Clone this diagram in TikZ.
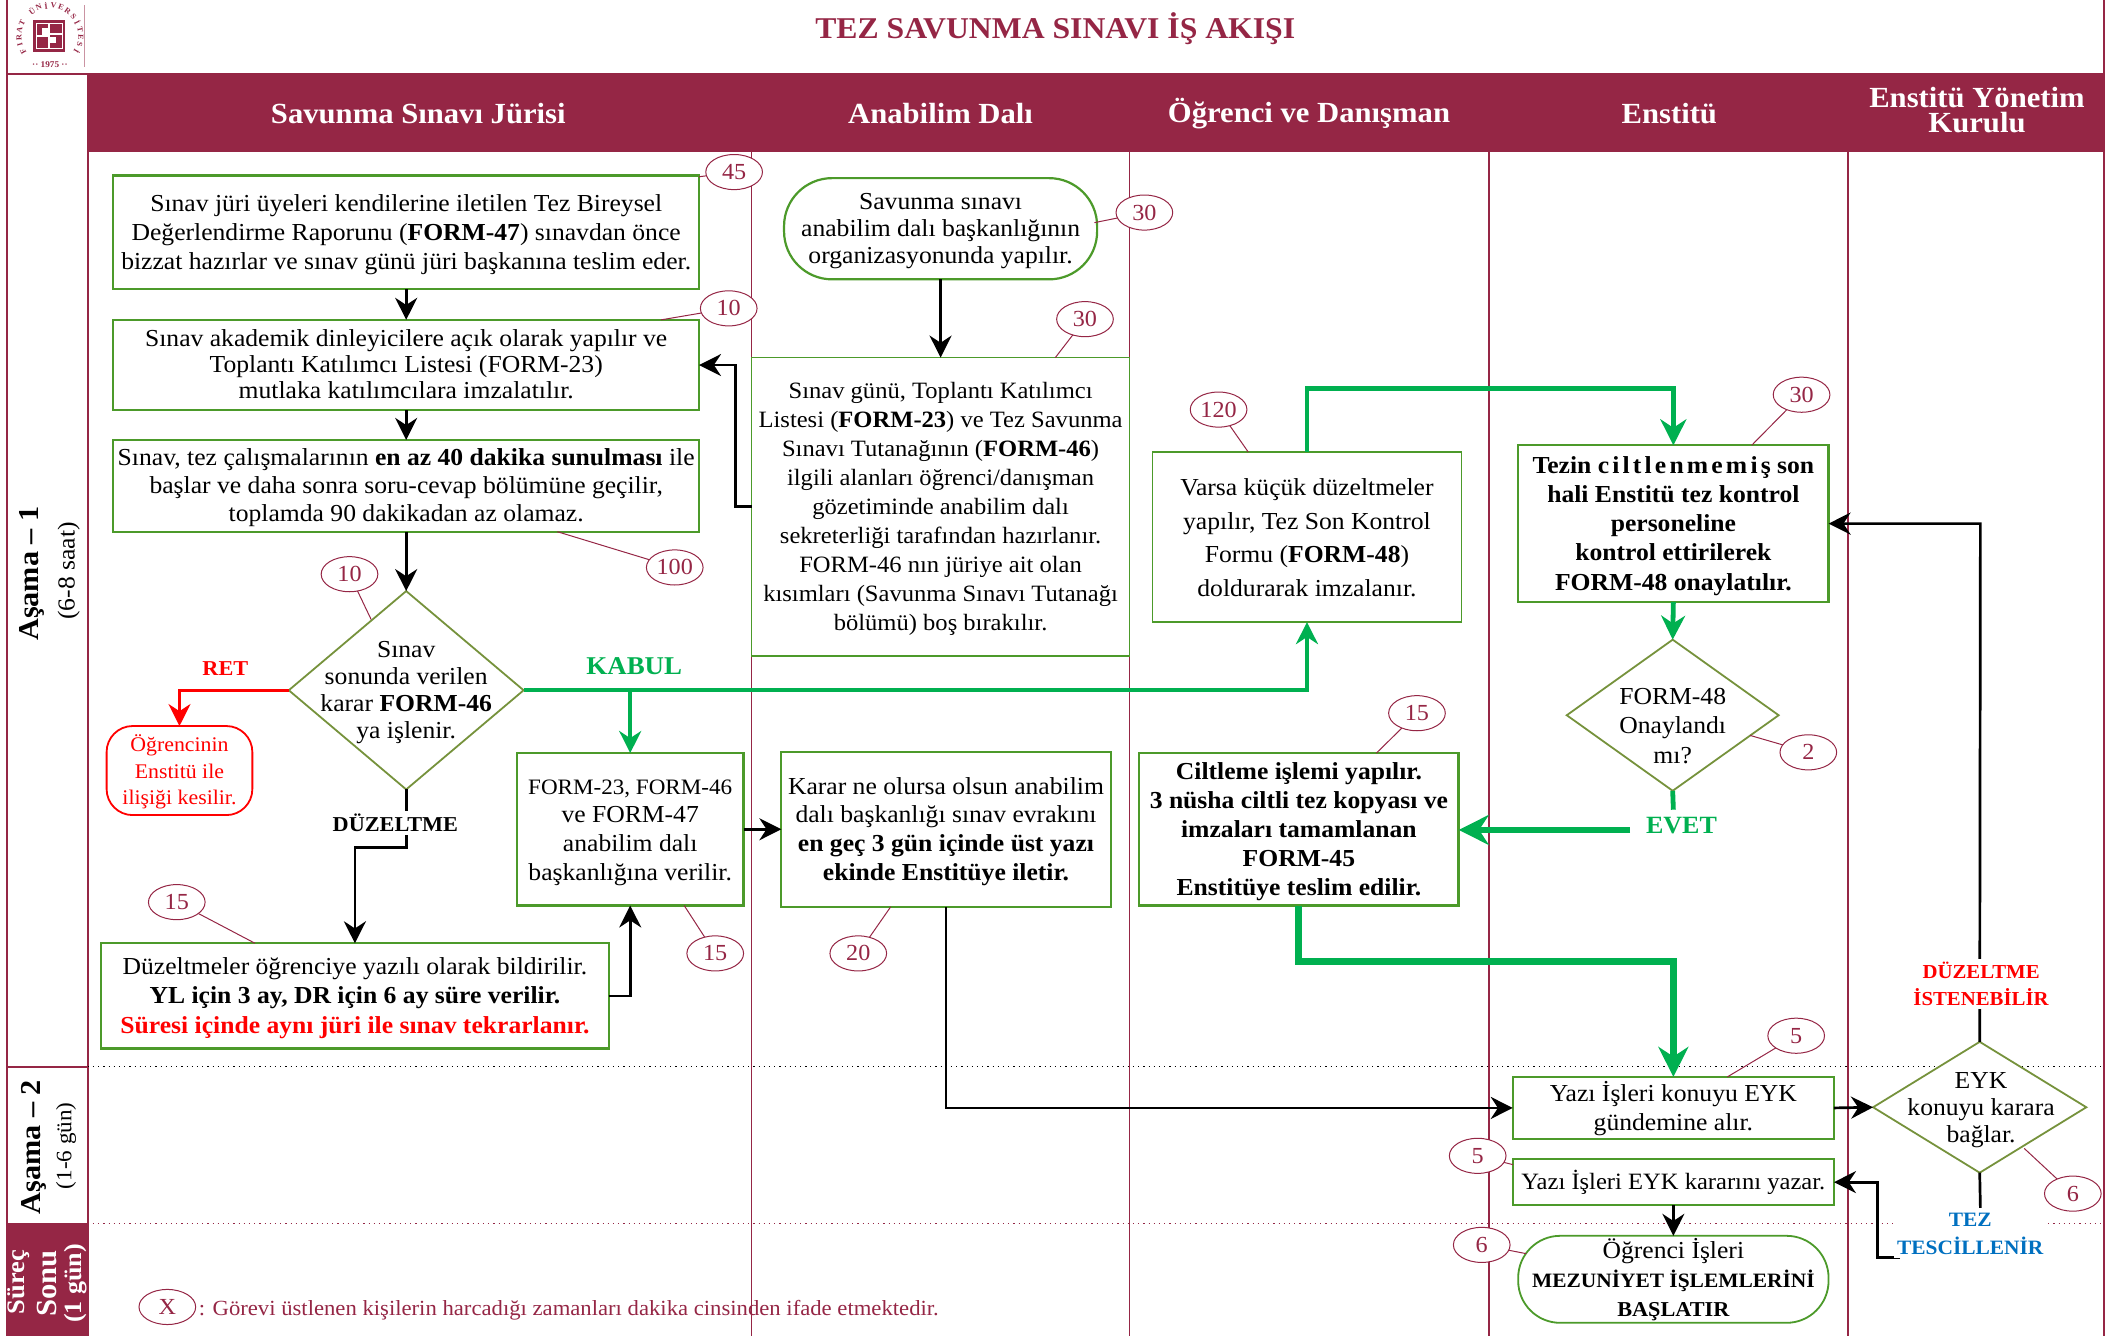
\documentclass[tikz,border=0pt]{standalone}
\usepackage{fontspec}
\setmainfont{Liberation Serif}[FakeStretch=1.05]
\usetikzlibrary{arrows.meta,shapes.geometric,calc}
\definecolor{burg}{HTML}{952645}
\definecolor{boxg}{HTML}{4C9A2A}
\definecolor{brightg}{HTML}{00B050}
\definecolor{olive}{HTML}{76923C}
\definecolor{tezblue}{HTML}{0070C0}
\tikzset{
  x=0.67475pt,y=-0.67475pt,
  >={Stealth[length=11pt,width=11pt]},
  txt/.style={inner sep=0pt,outer sep=0pt,align=center,font=\fontsize{12.2}{13.5}\selectfont},
  boxs/.style={inner sep=0pt,outer sep=0pt,font=\fontsize{12.2}{14.5}\selectfont,draw=boxg,line width=1.1pt,fill=white},
  dia/.style={diamond,draw=olive,line width=0.9pt,fill=white,inner sep=0pt,outer sep=0pt},
  tim/.style={ellipse,draw=burg,line width=0.5pt,fill=white,text=burg,inner sep=0pt,outer sep=0pt,minimum width=42*0.67475pt,minimum height=26*0.67475pt,font=\fontsize{11.5}{14}\selectfont},
  tie/.style={draw=burg,line width=0.5pt},
  lane/.style={draw=burg,line width=0.7pt},
  flow/.style={draw=black,line width=1.35pt,->},
  gflow/.style={draw=brightg,line width=1.8pt,->},
  gthick/.style={draw=brightg,line width=3.4pt,->,>={Stealth[length=15pt,width=15pt]}},
  head/.style={text=white,inner sep=0pt,align=center,font=\fontsize{14.6}{12.8}\selectfont\bfseries},
  lab/.style={inner sep=1.5pt,outer sep=0pt,align=center,fill=white,font=\fontsize{10.6}{14.4}\selectfont\bfseries},
}
\newcommand\bx[7][]{\node[boxs,minimum width={(#5-#3)*0.67475pt},minimum height={(#6-#4)*0.67475pt},#1] (#2) at ({(#3+#5)/2},{(#4+#6)/2}) {\raisebox{-1.1pt}[\height][\depth]{\begin{tabular}{@{}c@{}}#7\end{tabular}}};}
\newcommand\dm[8][]{\node[dia,minimum width={(#6-#4)*0.67475pt},minimum height={(#7-#5)*0.67475pt}] (#3) at ({(#4+#6)/2},{(#5+#7)/2}) {};
  \node[txt,#1] (#3t) at ($(#3.center)+(#2)$) {#8};}
\newcommand\tm[5]{\node[tim] (#1) at (#2,#3) {#4}; \draw[tie] (#1) -- (#5);}
\begin{document}
\begin{tikzpicture}
\useasboundingbox (0,0) rectangle (1568,990);
% header and frame
\fill[burg] (65,55) rectangle (1558,113);
\fill[burg] (5,906) rectangle (65,990);
\draw[lane,line width=1pt] (5,0) -- (5,990);
\draw[lane,line width=1pt] (5,54.5) -- (1559,54.5);
\draw[lane,line width=1pt] (65,55) -- (65,990);
\draw[lane,line width=1pt] (1559,0) -- (1559,990);
\draw[lane,line width=1pt] (5,790.5) -- (65,790.5);
\draw[lane] (557,113) -- (557,990);
\draw[lane] (837,113) -- (837,990);
\draw[lane] (1103.5,113) -- (1103.5,990);
\draw[lane] (1369.5,113) -- (1369.5,990);
\draw[black,line width=0.6pt,dotted] (65,790.5) -- (1558,790.5);
\draw[burg,line width=0.6pt,dotted] (65,906.5) -- (1558,906.5);
% logo
\draw[burg!50,line width=0.3pt] (62.5,4) -- (62.5,50);
\fill[burg] (24.7,15) rectangle (48,38.5);
\fill[white] (26.7,17) rectangle (46.5,36.5);
\fill[burg] (27.7,17.8) rectangle (35.8,26);
\fill[burg] (37,17.8) rectangle (45.7,24.7);
\fill[burg] (27.7,27.2) rectangle (35.8,35.8);
\fill[burg] (37,25.7) rectangle (45.7,35.8);
\fill[white] (31,21) rectangle (35.8,26);
\fill[white] (37,27.2) rectangle (41.5,32);
\foreach \l [count=\i from 0] in {F,I,R,A,T,{},Ü,N,İ,V,E,R,S,İ,T,E,S,İ}{
  \pgfmathsetmacro\ang{210-\i*14.1}
  \node[text=burg,inner sep=0pt,font=\fontsize{3.9}{5}\selectfont\bfseries,rotate=\ang-90] at ({37+23*cos(\ang)},{27-23*sin(\ang)}) {\l};
}
\node[text=burg,inner sep=0pt,font=\fontsize{4.4}{5}\selectfont\bfseries] (yr) at (37,48) {·· 1975 ··};
% title
\node[text=burg,inner sep=0pt,font=\fontsize{15.1}{18}\selectfont\bfseries] (title) at (782,21) {TEZ SAVUNMA SINAVI İŞ AKIŞI};
% headers
\node[head] (h1) at (310,84) {Savunma Sınavı Jürisi};
\node[head] (h2) at (697,84) {Anabilim Dalı};
\node[head] (h3) at (970,84) {Öğrenci ve Danışman};
\node[head] (h4) at (1237,84) {Enstitü};
\node[head] (h5) at (1465,81.5) {Enstitü Yönetim\\Kurulu};
% left column
\node[rotate=90,inner sep=0pt,font=\fontsize{14.4}{16}\selectfont\bfseries] (s1) at (24,425) {Aşama -- 1};
\node[rotate=90,inner sep=0pt,font=\fontsize{12.2}{12}\selectfont] (s1b) at (51,423) {(6-8 saat)};
\node[rotate=90,inner sep=0pt,font=\fontsize{14.4}{16}\selectfont\bfseries] (s2) at (25,850) {Aşama -- 2};
\node[rotate=90,inner sep=0pt,font=\fontsize{11}{12}\selectfont] (s2b) at (49,849) {(1-6 gün)};
\node[rotate=90,text=white,inner sep=0pt,font=\fontsize{12.6}{12}\selectfont\bfseries] (s3a) at (14,950) {Süreç};
\node[rotate=90,text=white,inner sep=0pt,font=\fontsize{14.6}{14}\selectfont\bfseries] (s3b) at (35,951) {Sonu};
\node[rotate=90,text=white,inner sep=0pt,font=\fontsize{12.4}{12}\selectfont\bfseries] (s3c) at (56,951) {(1 gün)};
% boxes
\bx{b1}{84}{130}{518}{214}{Sınav jüri üyeleri kendilerine iletilen Tez Bireysel\\Değerlendirme Raporunu (\textbf{FORM-47}) sınavdan önce\\bizzat hazırlar ve sınav günü jüri başkanına teslim eder.}
\bx[font=\fontsize{12.2}{13.2}\selectfont]{b2}{84}{237}{518}{304}{Sınav akademik dinleyicilere açık olarak yapılır ve\\Toplantı Katılımcı Listesi (FORM-23)\\mutlaka katılımcılara imzalatılır.}
\bx[font=\fontsize{12.2}{13.9}\selectfont]{b3}{84}{326}{518}{394}{Sınav, tez çalışmalarının \textbf{en az 40 dakika sunulması} ile\\başlar ve daha sonra soru-cevap bölümüne geçilir,\\toplamda 90 dakikadan az olamaz.}
\dm{0,2}{d1}{214}{438}{388}{585}{Sınav\\sonunda verilen\\karar \textbf{FORM-46}\\ya işlenir.}
\bx[draw=red,line width=0.9pt,rounded corners=13pt,text=red,font=\fontsize{10.4}{13.3}\selectfont]{ret}{79}{538}{187}{604}{Öğrencinin\\Enstitü ile\\ilişiği kesilir.}
\bx[font=\fontsize{12.2}{14.6}\selectfont]{b4}{75}{699}{451}{777}{Düzeltmeler öğrenciye yazılı olarak bildirilir.\\\textbf{YL için 3 ay, DR için 6 ay süre verilir.}\\\textcolor{red}{\textbf{Süresi içinde aynı jüri ile sınav tekrarlanır.}}}
\bx[font=\fontsize{12.2}{14.4}\selectfont]{b5}{383}{558}{551}{671}{{\fontsize{11}{14.4}\selectfont FORM-23, FORM-46}\\ve FORM-47\\anabilim dalı\\başkanlığına verilir.}
\bx[font=\fontsize{12.2}{14.4}\selectfont]{b6}{579}{557}{823}{672}{Karar ne olursa olsun anabilim\\dalı başkanlığı sınav evrakını\\\textbf{en geç 3 gün içinde üst yazı}\\\textbf{ekinde Enstitüye iletir.}}
\bx[rounded corners=24pt,font=\fontsize{12.2}{13.5}\selectfont]{a1}{581}{132}{813}{207}{Savunma sınavı\\anabilim dalı başkanlığının\\organizasyonunda yapılır.}
\bx[line width=0.8pt,font=\fontsize{11.7}{14.5}\selectfont]{a2}{557}{265}{837}{486}{Sınav günü, Toplantı Katılımcı\\Listesi (\textbf{FORM-23}) ve Tez Savunma\\Sınavı Tutanağının (\textbf{FORM-46})\\ilgili alanları öğrenci/danışman\\gözetiminde anabilim dalı\\sekreterliği tarafından hazırlanır.\\FORM-46 nın jüriye ait olan\\kısımları (Savunma Sınavı Tutanağı\\bölümü) boş bırakılır.}
\bx[line width=0.9pt,font=\fontsize{12.2}{16.9}\selectfont]{o1}{854}{335}{1083}{461}{Varsa küçük düzeltmeler\\yapılır, Tez Son Kontrol\\Formu (\textbf{FORM-48})\\doldurarak imzalanır.}
\bx[line width=1.4pt,font=\fontsize{12.2}{14.5}\selectfont\bfseries]{o2}{844}{558}{1081}{671}{Ciltleme işlemi yapılır.\\3 nüsha ciltli tez kopyası ve\\imzaları tamamlanan\\FORM-45\\Enstitüye teslim edilir.}
\bx[line width=1.1pt,font=\fontsize{12.2}{14.6}\selectfont\bfseries]{e1}{1125}{330}{1355}{446}{Tezin {\addfontfeature{LetterSpace=13}ciltlenmemiş} son\\hali Enstitü tez kontrol\\personeline\\kontrol ettirilerek\\FORM-48 onaylatılır.}
\dm[font=\fontsize{12.2}{14.8}\selectfont]{0,8}{d2}{1161}{474}{1318}{586}{FORM-48\\Onaylandı\\mı?}
\bx[font=\fontsize{12.2}{14.2}\selectfont]{e2}{1121}{798}{1359}{844}{Yazı İşleri konuyu EYK\\gündemine alır.}
\bx[font=\fontsize{11.7}{14}\selectfont]{e3}{1121}{859}{1359}{893}{Yazı İşleri EYK kararını yazar.}
\bx[rounded corners=21pt,line width=0.9pt,font=\fontsize{12.2}{14.5}\selectfont]{e4}{1125}{916}{1355}{980}{Öğrenci İşleri\\{\fontsize{10.2}{14.5}\selectfont\bfseries MEZUNİYET İŞLEMLERİNİ}\\{\fontsize{10.6}{14.5}\selectfont\bfseries BAŞLATIR}}
\dm{1,2.5}{d3}{1388}{772}{1546}{869}{EYK\\konuyu karara\\bağlar.}
% time ellipses
\coordinate (c45) at (518,131);
\coordinate (c10a) at (490,237);
\coordinate (c100) at (413,394);
\coordinate (c10b) at (275,459);
\coordinate (c30a) at (811,165);
\coordinate (c30b) at (782,265);
\coordinate (c120) at (925,335);
\coordinate (c30c) at (1298,330);
\coordinate (c2) at (1297,545);
\coordinate (c15a) at (1020,558);
\coordinate (c15b) at (189,699);
\coordinate (c15c) at (507,671);
\coordinate (c20) at (660,672);
\coordinate (c5a) at (1280,798);
\coordinate (c5b) at (1121,863);
\coordinate (c6a) at (1131,929);
\coordinate (c6b) at (1500,851);
\tm{t45}{544}{127.5}{45}{c45}
\tm{t10a}{540}{228.5}{10}{c10a}
\tm{t100}{500}{420.5}{100}{c100}
\tm{t10b}{259}{425.5}{10}{c10b}
\tm{t30a}{848}{157.5}{30}{c30a}
\tm{t30b}{804}{236.5}{30}{c30b}
\tm{t120}{903}{303.5}{120}{c120}
\tm{t30c}{1335}{292.5}{30}{c30c}
\tm{t2}{1340}{557.5}{2}{c2}
\tm{t15a}{1050}{528.5}{15}{c15a}
\tm{t15b}{131}{668.5}{15}{c15b}
\tm{t15c}{530}{706.5}{15}{c15c}
\tm{t20}{636}{706.5}{20}{c20}
\tm{t5a}{1331}{767.5}{5}{c5a}
\tm{t5b}{1095}{856.5}{5}{c5b}
\tm{t6a}{1098}{922.5}{6}{c6a}
\tm{t6b}{1536}{884.5}{6}{c6b}
\node[tim] (tx) at (124,968.5) {X};
\node[anchor=west,text=burg,inner sep=0pt,font=\fontsize{10.8}{12}\selectfont] (legend) at (147,971) {: Görevi üstlenen kişilerin harcadığı zamanları dakika cinsinden ifade etmektedir.};
% connectors
\draw[flow] (b1.south) -- (b2.north);
\draw[flow] (b2.south) -- (b3.north);
\draw[flow] (b3.south) -- (d1.north);
\draw[flow] (a1.south) -- (a2.north);
\draw[flow] (a2.west) -- (545,375.5) |- (b2.east);
\draw[draw=red,line width=1.35pt,->] (d1.west) -| (ret.north);
\draw[gflow] (d1.east) -| (o1.south);
\coordinate (kb) at (467,511.5);
\draw[gflow] (kb) -- (b5.north);
\coordinate (dz) at (301,628);
\draw[flow] (d1.south) -- (dz) -| (b4.north);
\draw[flow] (b4.east) -| (b5.south);
\draw[flow] (b5.east) -- (b6.west);
\draw[flow] (b6.south) |- (e2.west);
\draw[draw=brightg,line width=2.4pt,->,>={Stealth[length=13pt,width=13pt]}] (o1.north) -- (968.5,288) -| (e1.north);
\draw[gthick,line width=2.4pt,>={Stealth[length=12pt,width=12pt]}] (e1.south) -- (d2.north);
\coordinate (ev1) at (1240,600);
\draw[draw=brightg,line width=2.4pt] (d2.south) -- (ev1);
\coordinate (ev2) at (1208,615);
\draw[gthick,line width=2.6pt,>={Stealth[length=15pt,width=15pt]}] (ev2) -- (o2.east |- ev2);
\draw[gthick] (o2.south) -- (962.5,712.5) -| (e2.north);
\draw[flow] (e2.east) -- (d3.west);
\draw[flow] (e3.south) -- (e4.north);
\draw[flow] (d3.north) -- (1467.5,388) -- (e1.east |- 0,388);
\coordinate (tz1) at (1467.5,895);
\draw[line width=1.35pt] (d3.south) -- (tz1);
\coordinate (tz2) at (1408,932);
\draw[flow] (tz2) -- (1391,932) |- (e3.east);
% labels
\node[lab,text=red,fill=none] (lret) at (167,495.5) {RET};
\node[lab,text=brightg,fill=none,font=\fontsize{12.8}{14}\selectfont\bfseries] (lkab) at (470,493.5) {KABUL};
\node[lab] (lduz) at (293,610) {DÜZELTME};
\node[lab,text=brightg,fill=none,font=\fontsize{12.4}{14}\selectfont\bfseries] (levet) at (1246,611.5) {EVET};
\node[lab,text=red,font=\fontsize{9.9}{13.5}\selectfont\bfseries] (lduz2) at (1468,729) {DÜZELTME\\İSTENEBİLİR};
\node[lab,text=tezblue,font=\fontsize{10.2}{14}\selectfont\bfseries] (ltez) at (1460,914.5) {TEZ\\TESCİLLENİR};
\end{tikzpicture}
\end{document}
